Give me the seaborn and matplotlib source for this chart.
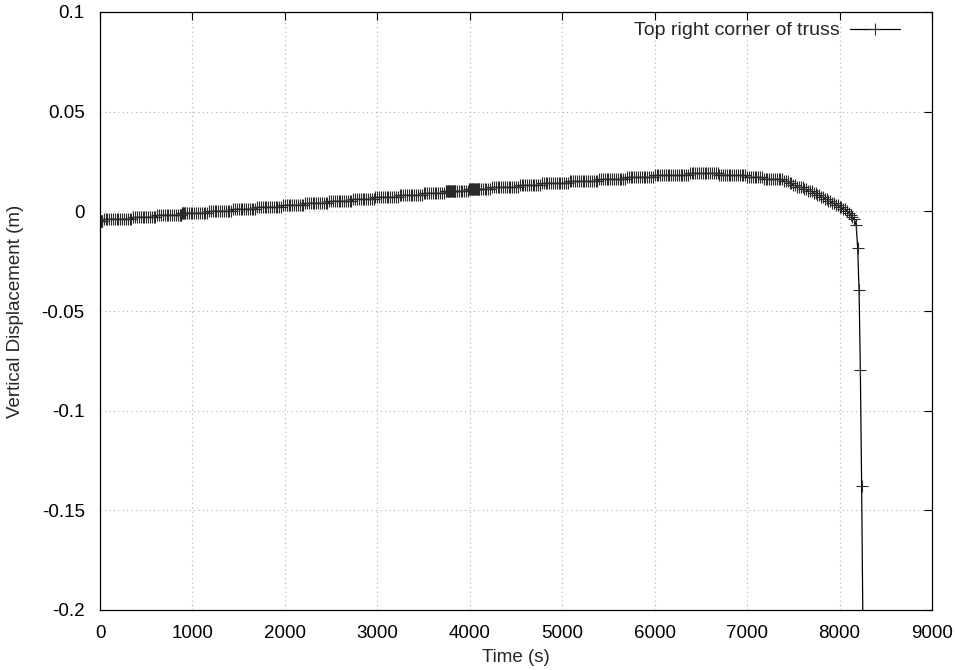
import numpy as np
import pandas as pd
import matplotlib
matplotlib.use("Agg")
import matplotlib.pyplot as plt
import seaborn as sns

# ---- data ----
# displacement plateaus (m) and the time (s) at which each plateau starts
level_values = [-0.005, -0.004, -0.003, -0.002, -0.001, 0.000, 0.001, 0.002, 0.003,
                0.004, 0.005, 0.006, 0.007, 0.008, 0.009, 0.010, 0.011, 0.012, 0.013,
                0.014, 0.015, 0.016, 0.017, 0.018, 0.019, 0.018, 0.017, 0.016, 0.015,
                0.014, 0.013, 0.012, 0.011, 0.010, 0.009, 0.008, 0.007, 0.006, 0.005,
                0.004, 0.003, 0.002, 0.001, 0.000, -0.001, -0.002, -0.003, -0.004,
                -0.005, -0.006, -0.007]
level_starts = [0, 30, 343, 613, 884, 1172, 1425, 1696, 1966,
                2218, 2471, 2724, 2976, 3229, 3481, 3734, 3986, 4239, 4527,
                4780, 5068, 5393, 5682, 5989, 6367, 6690, 7000, 7180, 7390,
                7450, 7500, 7540, 7610, 7660, 7710, 7760, 7800, 7840, 7880,
                7920, 7960, 7990, 8030, 8070, 8100, 8120, 8135, 8150,
                8162, 8172, 8180]
sample_step = 20          # output interval of the stepped part (s)
end_time = 8180
# extra output times where the solver wrote denser output
dense_times = [2, 5, 8, 11, 14, 17, 865, 875, 885, 895, 905, 915,
               3745, 3755, 3765, 3775, 3785, 3795, 3805, 3815, 3825, 3835, 3845,
               3995, 4005, 4015, 4025, 4035, 4045, 4055, 4065, 4075, 4085, 4095]
# collapse phase (sparse points)
collapse_times = [8196, 8211, 8225, 8239, 8254]
collapse_disp = [-0.0184, -0.0397, -0.0797, -0.138, -0.215]

series_label = "Top right corner of truss"
x_ticks = [0, 1000, 2000, 3000, 4000, 5000, 6000, 7000, 8000, 9000]
y_ticks = [-0.2, -0.15, -0.1, -0.05, 0, 0.05, 0.1]
y_tick_labels = ["-0.2", "-0.15", "-0.1", "-0.05", "0", "0.05", "0.1"]

# ---- build table ----
t_main = np.sort(np.unique(np.concatenate([np.arange(0, end_time + 1, sample_step), dense_times])))
idx = np.searchsorted(level_starts, t_main, side="right") - 1
y_main = np.asarray(level_values)[idx]
t_all = np.concatenate([t_main, collapse_times])
y_all = np.concatenate([y_main, collapse_disp])
df = pd.DataFrame({"Time (s)": t_all, "Vertical Displacement (m)": y_all})

# ---- plot ----
sns.set_style("white")
plt.rcParams["font.family"] = ["Liberation Sans", "DejaVu Sans"]
fig = plt.figure(figsize=(9.55, 6.70), dpi=100)
ax = fig.add_axes([100 / 955, 1 - 610 / 670, 832 / 955, 598 / 670])

sns.lineplot(data=df, x="Time (s)", y="Vertical Displacement (m)", ax=ax,
             sort=False, estimator=None, color="black", linewidth=0.9,
             marker="+", markersize=9, markeredgewidth=0.8,
             markeredgecolor="#2a2a2a", markerfacecolor="#2a2a2a",
             label=series_label)

ax.set_xlim(0, 9000)
ax.set_ylim(-0.2, 0.1)
ax.set_xticks(x_ticks)
ax.set_xticklabels([str(v) for v in x_ticks])
ax.set_yticks(y_ticks)
ax.set_yticklabels(y_tick_labels)
ax.tick_params(direction="in", length=6, width=0.8, top=True, right=True,
               labelsize=13.5, colors="black")
ax.tick_params(axis="x", pad=11)
ax.tick_params(axis="y", pad=11)
ax.grid(True, color="#b0b0b0", linestyle=(0, (1, 3)), linewidth=0.8)
for s in ax.spines.values():
    s.set_visible(True)
    s.set_color("black")
    s.set_linewidth(0.9)
ax.set_xlabel("Time (s)", fontsize=13.5, labelpad=5)
ax.set_ylabel("Vertical Displacement (m)", fontsize=13.5, labelpad=13)

leg = ax.legend(loc="upper right", frameon=False, markerfirst=False, fontsize=14,
                handlelength=2.6, borderaxespad=0.3, borderpad=0.2,
                handletextpad=0.5, bbox_to_anchor=(1 - 22 / 832, 1.0))

fig.savefig("out.png", dpi=100)
